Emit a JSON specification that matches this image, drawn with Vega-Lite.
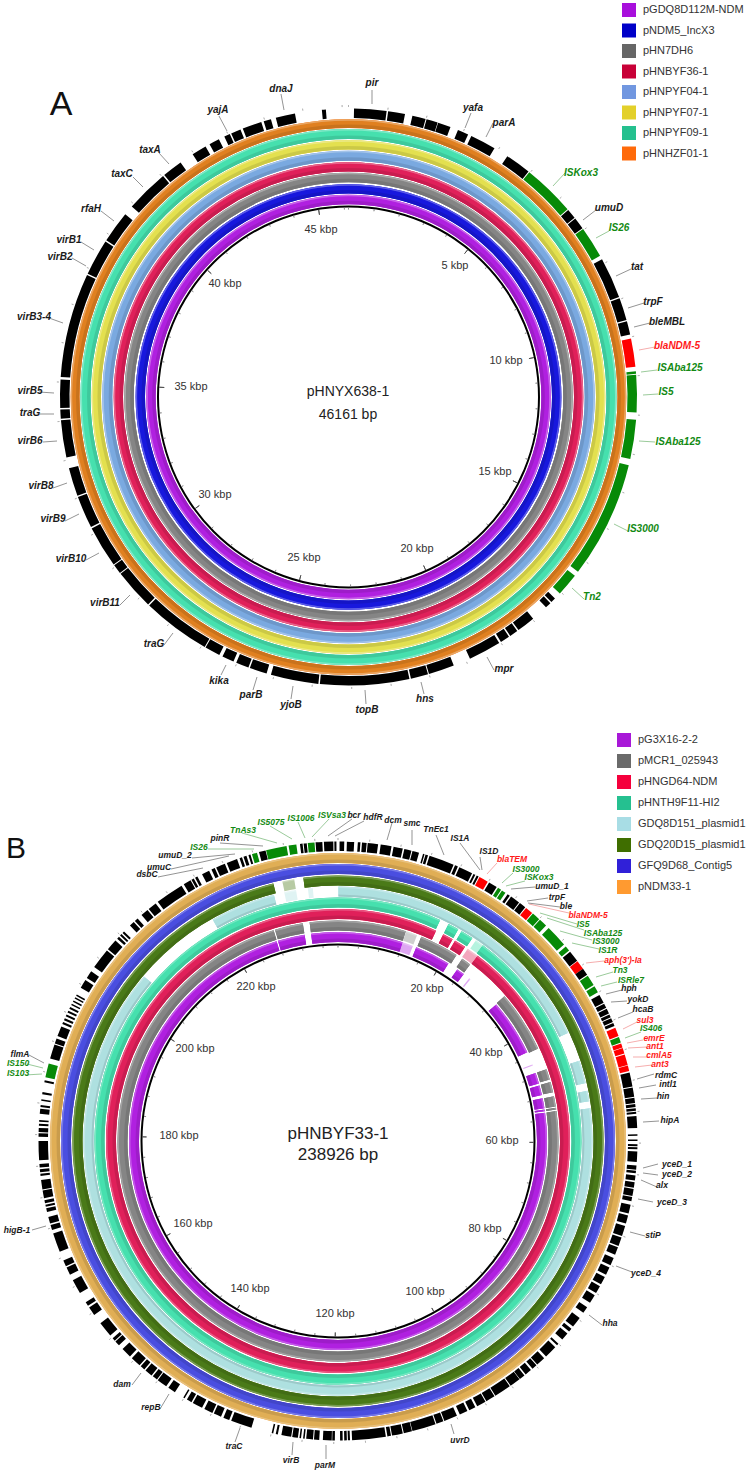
{"$schema":"https://vega.github.io/schema/vega-lite/v6.json","padding":0,"spacing":0,"background":"white","config":{"view":{"stroke":null},"text":{"font":"Liberation Sans"}},
"resolve":{"scale":{"color":"independent"},"legend":{"color":"independent"}},
"datasets":{
"ringsA":[{"track":"pGDQ8D112M-NDM","inner":192.8,"outer":202.2,"shade":196.3,"glow":200.7},{"track":"pNDM5_IncX3","inner":203.5,"outer":212.8,"shade":207,"glow":211.3},{"track":"pHN7DH6","inner":214.8,"outer":224.2,"shade":218.3,"glow":222.7},{"track":"pHNBYF36-1","inner":225.5,"outer":234.8,"shade":229,"glow":233.3},{"track":"pHNPYF04-1","inner":236.2,"outer":246.2,"shade":239.7,"glow":244.7},{"track":"pHNPYF07-1","inner":247.5,"outer":256.8,"shade":251,"glow":255.3},{"track":"pHNPYF09-1","inner":258,"outer":268,"shade":261.5,"glow":266.5},{"track":"pHNHZF01-1","inner":269,"outer":277.8,"shade":272.5,"glow":276.3}],
"segmentsA":[{"track":"pGDQ8D112M-NDM","start":0,"end":360,"identity":"high"},{"track":"pNDM5_IncX3","start":0,"end":360,"identity":"high"},{"track":"pHN7DH6","start":0,"end":360,"identity":"high"},{"track":"pHNBYF36-1","start":0,"end":360,"identity":"high"},{"track":"pHNPYF04-1","start":0,"end":360,"identity":"high"},{"track":"pHNPYF07-1","start":0,"end":360,"identity":"high"},{"track":"pHNPYF09-1","start":0,"end":360,"identity":"high"},{"track":"pHNHZF01-1","start":0,"end":360,"identity":"high"}],
"ringsB":[{"track":"pG3X16-2-2","inner":199,"outer":209,"shade":202.5,"glow":207.5},{"track":"pMCR1_025943","inner":210.5,"outer":220.5,"shade":214,"glow":219},{"track":"pHNGD64-NDM","inner":222,"outer":232,"shade":225.5,"glow":230.5},{"track":"pHNTH9F11-HI2","inner":233.5,"outer":243.5,"shade":237,"glow":242},{"track":"GDQ8D151_plasmid1","inner":244.5,"outer":254.5,"shade":246.5,"glow":253},{"track":"GDQ20D15_plasmid1","inner":255.5,"outer":265.5,"shade":259,"glow":264},{"track":"GFQ9D68_Contig5","inner":267,"outer":277,"shade":270.5,"glow":275.5},{"track":"pNDM33-1","inner":278,"outer":288,"shade":281.5,"glow":286.5}],
"segmentsB":[
{"track":"pG3X16-2-2","start":0,"end":18,"identity":"high"},{"track":"pG3X16-2-2","start":18,"end":21,"identity":"low"},{"track":"pG3X16-2-2","start":22,"end":31.9,"identity":"high"},{"track":"pG3X16-2-2","start":34.8,"end":37,"identity":"high"},{"track":"pG3X16-2-2","start":38.9,"end":39.3,"identity":"low"},{"track":"pG3X16-2-2","start":49.2,"end":64.9,"identity":"high"},{"track":"pG3X16-2-2","start":68.5,"end":68.8,"identity":"low"},{"track":"pG3X16-2-2","start":71,"end":74,"identity":"high"},{"track":"pG3X16-2-2","start":74.6,"end":77.3,"identity":"high"},{"track":"pG3X16-2-2","start":78.2,"end":81,"identity":"high"},{"track":"pG3X16-2-2","start":81.3,"end":81.8,"identity":"high"},{"track":"pG3X16-2-2","start":82.2,"end":342.9,"identity":"high"},{"track":"pG3X16-2-2","start":343.3,"end":350.8,"identity":"high"},{"track":"pG3X16-2-2","start":352.6,"end":360,"identity":"high"},
{"track":"pMCR1_025943","start":0,"end":17.9,"identity":"high"},{"track":"pMCR1_025943","start":18,"end":21,"identity":"low"},{"track":"pMCR1_025943","start":22.2,"end":32.5,"identity":"high"},{"track":"pMCR1_025943","start":34.3,"end":36.8,"identity":"high"},{"track":"pMCR1_025943","start":49,"end":65.2,"identity":"high"},{"track":"pMCR1_025943","start":71,"end":73.8,"identity":"high"},{"track":"pMCR1_025943","start":74.5,"end":77.2,"identity":"high"},{"track":"pMCR1_025943","start":78.3,"end":81,"identity":"high"},{"track":"pMCR1_025943","start":81.3,"end":81.8,"identity":"high"},{"track":"pMCR1_025943","start":82.2,"end":343,"identity":"high"},{"track":"pMCR1_025943","start":343.4,"end":350.8,"identity":"high"},{"track":"pMCR1_025943","start":352.6,"end":360,"identity":"high"},
{"track":"pHNGD64-NDM","start":0,"end":25,"identity":"high"},{"track":"pHNGD64-NDM","start":27,"end":29.6,"identity":"high"},{"track":"pHNGD64-NDM","start":30.3,"end":33.2,"identity":"high"},{"track":"pHNGD64-NDM","start":34,"end":37,"identity":"low"},{"track":"pHNGD64-NDM","start":37,"end":360,"identity":"high"},
{"track":"pHNTH9F11-HI2","start":0,"end":24.8,"identity":"high"},{"track":"pHNTH9F11-HI2","start":27,"end":29.6,"identity":"high"},{"track":"pHNTH9F11-HI2","start":30.5,"end":33.5,"identity":"high"},{"track":"pHNTH9F11-HI2","start":34.5,"end":36.5,"identity":"low"},{"track":"pHNTH9F11-HI2","start":36.5,"end":360,"identity":"high"},
{"track":"GDQ8D151_plasmid1","start":0.1,"end":64.8,"identity":"high"},{"track":"GDQ8D151_plasmid1","start":71.6,"end":76.8,"identity":"high"},{"track":"GDQ8D151_plasmid1","start":78.6,"end":81,"identity":"high"},{"track":"GDQ8D151_plasmid1","start":82.6,"end":310.3,"identity":"high"},{"track":"GDQ8D151_plasmid1","start":330.5,"end":345.4,"identity":"high"},{"track":"GDQ8D151_plasmid1","start":347.8,"end":350.5,"identity":"low"},{"track":"GDQ8D151_plasmid1","start":353.2,"end":354.3,"identity":"low"},
{"track":"GDQ20D15_plasmid1","start":0,"end":345.9,"identity":"high"},{"track":"GDQ20D15_plasmid1","start":347.9,"end":350.5,"identity":"low"},{"track":"GDQ20D15_plasmid1","start":352.5,"end":360,"identity":"high"},
{"track":"GFQ9D68_Contig5","start":0,"end":360,"identity":"high"},{"track":"pNDM33-1","start":0,"end":360,"identity":"high"}],
"featuresA":[{"start":1.1,"end":7.6,"kind":"gene"},{"start":7.9,"end":11.3,"kind":"gene"},{"start":12.8,"end":15.5,"kind":"gene"},{"start":15.7,"end":18,"kind":"gene"},{"start":18.1,"end":20.7,"kind":"gene"},{"start":22.3,"end":24.5,"kind":"gene"},{"start":25.2,"end":30.4,"kind":"gene"},{"start":33.4,"end":38.6,"kind":"gene"},{"start":38.8,"end":49.4,"kind":"IS"},{"start":49.6,"end":51.6,"kind":"gene"},{"start":51.8,"end":54.2,"kind":"gene"},{"start":54.4,"end":60.7,"kind":"IS"},{"start":61.5,"end":69.7,"kind":"gene"},{"start":70,"end":74.5,"kind":"gene"},{"start":74.8,"end":77.5,"kind":"gene"},{"start":78.3,"end":84,"kind":"AMR"},{"start":84.9,"end":85.4,"kind":"IS"},{"start":85.6,"end":93.1,"kind":"IS"},{"start":94.5,"end":102.4,"kind":"IS"},{"start":103.7,"end":127.3,"kind":"IS"},{"start":128.3,"end":132.9,"kind":"IS"},{"start":134.3,"end":135.3,"kind":"gene"},{"start":135.6,"end":136.8,"kind":"gene"},{"start":140.2,"end":143.9,"kind":"gene"},{"start":144.2,"end":145.9,"kind":"gene"},{"start":146.2,"end":148.1,"kind":"gene"},{"start":148.5,"end":155.1,"kind":"gene"},{"start":158.6,"end":163.8,"kind":"gene"},{"start":164,"end":167.5,"kind":"gene"},{"start":167.8,"end":185.7,"kind":"gene"},{"start":186,"end":195.6,"kind":"gene"},{"start":196.5,"end":200,"kind":"gene"},{"start":200.3,"end":202.9,"kind":"gene"},{"start":203.5,"end":205.9,"kind":"gene"},{"start":206.6,"end":209.7,"kind":"gene"},{"start":209.9,"end":223.7,"kind":"gene"},{"start":224,"end":232.2,"kind":"gene"},{"start":232.4,"end":234.3,"kind":"gene"},{"start":234.5,"end":242.9,"kind":"gene"},{"start":243.2,"end":249.7,"kind":"gene"},{"start":250,"end":255.7,"kind":"gene"},{"start":257.9,"end":265.4,"kind":"gene"},{"start":265.7,"end":267.5,"kind":"gene"},{"start":267.8,"end":273.5,"kind":"gene"},{"start":274,"end":295,"kind":"gene"},{"start":295.3,"end":302.6,"kind":"gene"},{"start":302.9,"end":309.3,"kind":"gene"},{"start":311.3,"end":320,"kind":"gene"},{"start":320.3,"end":324.4,"kind":"gene"},{"start":327.3,"end":330.3,"kind":"gene"},{"start":331.2,"end":333.3,"kind":"gene"},{"start":334.5,"end":335.7,"kind":"gene"},{"start":336,"end":338,"kind":"gene"},{"start":338.5,"end":342.4,"kind":"gene"},{"start":342.9,"end":344.4,"kind":"gene"},{"start":345.4,"end":349.3,"kind":"gene"},{"start":354.7,"end":355.5,"kind":"gene"}],
"featuresB":[{"start":359.3,"end":359.7,"kind":"gene"},{"start":0.3,"end":1.2,"kind":"gene"},{"start":1.7,"end":3.1,"kind":"gene"},{"start":3.8,"end":4.3,"kind":"gene"},{"start":4.6,"end":5.5,"kind":"gene"},{"start":5.7,"end":7.7,"kind":"gene"},{"start":8.2,"end":10.3,"kind":"gene"},{"start":10.7,"end":12.5,"kind":"gene"},{"start":12.8,"end":14.2,"kind":"gene"},{"start":14.4,"end":15.7,"kind":"gene"},{"start":16.5,"end":16.8,"kind":"gene"},{"start":17,"end":17.5,"kind":"gene"},{"start":17.8,"end":22.7,"kind":"gene"},{"start":23,"end":23.6,"kind":"gene"},{"start":23.9,"end":26.6,"kind":"gene"},{"start":26.9,"end":27.3,"kind":"gene"},{"start":27.6,"end":28,"kind":"gene"},{"start":28.2,"end":30,"kind":"AMR"},{"start":30.3,"end":32,"kind":"gene"},{"start":32.3,"end":33,"kind":"IS"},{"start":33.2,"end":34,"kind":"IS"},{"start":34.5,"end":35,"kind":"gene"},{"start":35.3,"end":37.2,"kind":"gene"},{"start":37.4,"end":38.7,"kind":"gene"},{"start":38.9,"end":40.4,"kind":"AMR"},{"start":40.6,"end":42.2,"kind":"IS"},{"start":42.4,"end":44,"kind":"IS"},{"start":44.7,"end":49,"kind":"IS"},{"start":49.5,"end":50.5,"kind":"IS"},{"start":50.8,"end":53,"kind":"gene"},{"start":53.1,"end":54.9,"kind":"AMR"},{"start":54.9,"end":56.3,"kind":"gene"},{"start":56.5,"end":58.6,"kind":"IS"},{"start":58.9,"end":60.2,"kind":"IS"},{"start":60.8,"end":62.5,"kind":"gene"},{"start":62.7,"end":63.6,"kind":"gene"},{"start":63.8,"end":64.8,"kind":"gene"},{"start":65,"end":65.6,"kind":"gene"},{"start":65.8,"end":66.6,"kind":"gene"},{"start":66.8,"end":67.4,"kind":"gene"},{"start":67.8,"end":69.5,"kind":"AMR"},{"start":69.7,"end":70.8,"kind":"IS"},{"start":71,"end":71.8,"kind":"AMR"},{"start":71.9,"end":73,"kind":"AMR"},{"start":73.2,"end":75.3,"kind":"AMR"},{"start":75.4,"end":76.5,"kind":"AMR"},{"start":76.8,"end":79.5,"kind":"gene"},{"start":79.7,"end":81.5,"kind":"gene"},{"start":81.7,"end":82.7,"kind":"gene"},{"start":82.9,"end":83.5,"kind":"gene"},{"start":83.7,"end":84.2,"kind":"gene"},{"start":84.4,"end":84.8,"kind":"gene"},{"start":85.2,"end":87.5,"kind":"gene"},{"start":88.7,"end":89,"kind":"gene"},{"start":89.7,"end":90,"kind":"gene"},{"start":90.6,"end":91,"kind":"gene"},{"start":91.2,"end":91.6,"kind":"gene"},{"start":92,"end":94,"kind":"gene"},{"start":94.7,"end":95.5,"kind":"gene"},{"start":95.7,"end":96.2,"kind":"gene"},{"start":96.6,"end":97.6,"kind":"gene"},{"start":97.9,"end":99,"kind":"gene"},{"start":99.2,"end":100.6,"kind":"gene"},{"start":100.8,"end":101.6,"kind":"gene"},{"start":102.3,"end":104,"kind":"gene"},{"start":104.4,"end":106,"kind":"gene"},{"start":106.5,"end":108.5,"kind":"gene"},{"start":108.8,"end":110.5,"kind":"gene"},{"start":110.8,"end":112.3,"kind":"gene"},{"start":113,"end":114.5,"kind":"gene"},{"start":115,"end":116.5,"kind":"gene"},{"start":117,"end":118.6,"kind":"gene"},{"start":119,"end":120.5,"kind":"gene"},{"start":121,"end":122.7,"kind":"gene"},{"start":123.7,"end":125,"kind":"gene"},{"start":126.2,"end":128.3,"kind":"gene"},{"start":128.8,"end":129.5,"kind":"gene"},{"start":130,"end":131.5,"kind":"gene"},{"start":132.6,"end":133,"kind":"gene"},{"start":133.5,"end":136,"kind":"gene"},{"start":136.5,"end":138.3,"kind":"gene"},{"start":138.5,"end":139.5,"kind":"gene"},{"start":139.9,"end":141.2,"kind":"gene"},{"start":141.5,"end":142.6,"kind":"gene"},{"start":142.7,"end":144.8,"kind":"gene"},{"start":145,"end":148.3,"kind":"gene"},{"start":148.5,"end":150.3,"kind":"gene"},{"start":150.5,"end":152.3,"kind":"gene"},{"start":152.7,"end":154,"kind":"gene"},{"start":154.4,"end":156,"kind":"gene"},{"start":156.6,"end":159.2,"kind":"gene"},{"start":159.4,"end":160.8,"kind":"gene"},{"start":161,"end":165.6,"kind":"gene"},{"start":165.7,"end":167.3,"kind":"gene"},{"start":167.5,"end":169.6,"kind":"gene"},{"start":169.8,"end":170.5,"kind":"gene"},{"start":170.8,"end":177.3,"kind":"gene"},{"start":177.7,"end":178.1,"kind":"gene"},{"start":178.3,"end":178.8,"kind":"gene"},{"start":179.1,"end":179.6,"kind":"gene"},{"start":180.6,"end":181.1,"kind":"gene"},{"start":181.2,"end":182.9,"kind":"gene"},{"start":183.6,"end":184.6,"kind":"gene"},{"start":184.8,"end":186.1,"kind":"gene"},{"start":186.4,"end":186.7,"kind":"gene"},{"start":187.1,"end":187.4,"kind":"gene"},{"start":187.7,"end":188.8,"kind":"gene"},{"start":189,"end":190.9,"kind":"gene"},{"start":191.6,"end":192,"kind":"gene"},{"start":192.5,"end":192.8,"kind":"gene"},{"start":196.8,"end":200.9,"kind":"gene"},{"start":201.3,"end":202.5,"kind":"gene"},{"start":203,"end":204.5,"kind":"gene"},{"start":204.8,"end":206.5,"kind":"gene"},{"start":207,"end":209,"kind":"gene"},{"start":209.3,"end":210.3,"kind":"gene"},{"start":210.8,"end":211.1,"kind":"gene"},{"start":213,"end":214.5,"kind":"gene"},{"start":215,"end":217,"kind":"gene"},{"start":217.2,"end":218.2,"kind":"gene"},{"start":218.5,"end":220,"kind":"gene"},{"start":220.3,"end":221.2,"kind":"gene"},{"start":221.5,"end":223.5,"kind":"gene"},{"start":224,"end":226,"kind":"gene"},{"start":227,"end":228,"kind":"gene"},{"start":228.2,"end":228.8,"kind":"gene"},{"start":229.5,"end":232.5,"kind":"gene"},{"start":234.5,"end":236.2,"kind":"gene"},{"start":236.6,"end":237.4,"kind":"gene"},{"start":239.5,"end":242.3,"kind":"gene"},{"start":243.5,"end":245,"kind":"gene"},{"start":245.3,"end":246.5,"kind":"gene"},{"start":248.3,"end":252,"kind":"gene"},{"start":252.7,"end":253.7,"kind":"gene"},{"start":254,"end":255.3,"kind":"gene"},{"start":256.3,"end":257,"kind":"gene"},{"start":257.3,"end":257.7,"kind":"gene"},{"start":258,"end":258.6,"kind":"gene"},{"start":259,"end":260.5,"kind":"gene"},{"start":260.7,"end":262.5,"kind":"gene"},{"start":263.3,"end":263.7,"kind":"gene"},{"start":264,"end":264.6,"kind":"gene"},{"start":264.9,"end":265.6,"kind":"gene"},{"start":266.3,"end":270,"kind":"gene"},{"start":270.8,"end":271.5,"kind":"gene"},{"start":271.7,"end":272.5,"kind":"gene"},{"start":272.9,"end":273.3,"kind":"gene"},{"start":273.7,"end":274,"kind":"gene"},{"start":275.2,"end":276.2,"kind":"gene"},{"start":276.5,"end":276.9,"kind":"gene"},{"start":277.7,"end":278,"kind":"gene"},{"start":279,"end":279.4,"kind":"gene"},{"start":281.3,"end":281.7,"kind":"gene"},{"start":282.3,"end":285,"kind":"IS"},{"start":286,"end":288.8,"kind":"gene"},{"start":289,"end":290,"kind":"gene"},{"start":290.5,"end":292.5,"kind":"gene"},{"start":293,"end":293.4,"kind":"gene"},{"start":293.8,"end":294.2,"kind":"gene"},{"start":294.6,"end":295,"kind":"gene"},{"start":295.4,"end":295.8,"kind":"gene"},{"start":296.2,"end":296.6,"kind":"gene"},{"start":297,"end":297.3,"kind":"gene"},{"start":297.7,"end":298,"kind":"gene"},{"start":298.4,"end":298.7,"kind":"gene"},{"start":299,"end":299.3,"kind":"gene"},{"start":300.8,"end":302.5,"kind":"gene"},{"start":303,"end":304.5,"kind":"gene"},{"start":305.5,"end":309.5,"kind":"gene"},{"start":309.8,"end":312,"kind":"gene"},{"start":312.5,"end":313,"kind":"gene"},{"start":313.3,"end":313.7,"kind":"gene"},{"start":314,"end":314.4,"kind":"gene"},{"start":316,"end":317,"kind":"gene"},{"start":317.3,"end":318,"kind":"gene"},{"start":319,"end":320.5,"kind":"gene"},{"start":320.8,"end":322.5,"kind":"gene"},{"start":323,"end":328.5,"kind":"gene"},{"start":329,"end":330.5,"kind":"gene"},{"start":330.7,"end":331.2,"kind":"gene"},{"start":331.5,"end":332,"kind":"gene"},{"start":333,"end":334.5,"kind":"gene"},{"start":335,"end":335.7,"kind":"gene"},{"start":336,"end":337.8,"kind":"gene"},{"start":338.2,"end":340.3,"kind":"gene"},{"start":340.8,"end":341.3,"kind":"gene"},{"start":341.6,"end":342.2,"kind":"gene"},{"start":342.6,"end":343,"kind":"gene"},{"start":343.3,"end":344.3,"kind":"IS"},{"start":344.7,"end":346,"kind":"gene"},{"start":346.1,"end":350.1,"kind":"IS"},{"start":350.5,"end":352,"kind":"IS"},{"start":352.7,"end":353.2,"kind":"gene"},{"start":353.4,"end":354,"kind":"gene"},{"start":354.2,"end":355.5,"kind":"IS"},{"start":355.7,"end":357,"kind":"gene"},{"start":357.3,"end":359.1,"kind":"gene"}],
"ticksMinorA":[{"bp":0},{"bp":1000},{"bp":2000},{"bp":3000},{"bp":4000},{"bp":6000},{"bp":7000},{"bp":8000},{"bp":9000},{"bp":11000},{"bp":12000},{"bp":13000},{"bp":14000},{"bp":16000},{"bp":17000},{"bp":18000},{"bp":19000},{"bp":21000},{"bp":22000},{"bp":23000},{"bp":24000},{"bp":26000},{"bp":27000},{"bp":28000},{"bp":29000},{"bp":31000},{"bp":32000},{"bp":33000},{"bp":34000},{"bp":36000},{"bp":37000},{"bp":38000},{"bp":39000},{"bp":41000},{"bp":42000},{"bp":43000},{"bp":44000},{"bp":46000}],
"ticksMajorA":[{"bp":5000},{"bp":10000},{"bp":15000},{"bp":20000},{"bp":25000},{"bp":30000},{"bp":35000},{"bp":40000},{"bp":45000}],
"ticksMinorB":[{"bp":0},{"bp":4000},{"bp":8000},{"bp":12000},{"bp":16000},{"bp":24000},{"bp":28000},{"bp":32000},{"bp":36000},{"bp":44000},{"bp":48000},{"bp":52000},{"bp":56000},{"bp":64000},{"bp":68000},{"bp":72000},{"bp":76000},{"bp":84000},{"bp":88000},{"bp":92000},{"bp":96000},{"bp":104000},{"bp":108000},{"bp":112000},{"bp":116000},{"bp":124000},{"bp":128000},{"bp":132000},{"bp":136000},{"bp":144000},{"bp":148000},{"bp":152000},{"bp":156000},{"bp":164000},{"bp":168000},{"bp":172000},{"bp":176000},{"bp":184000},{"bp":188000},{"bp":192000},{"bp":196000},{"bp":204000},{"bp":208000},{"bp":212000},{"bp":216000},{"bp":224000},{"bp":228000},{"bp":232000},{"bp":236000}],
"ticksMajorB":[{"bp":20000},{"bp":40000},{"bp":60000},{"bp":80000},{"bp":100000},{"bp":120000},{"bp":140000},{"bp":160000},{"bp":180000},{"bp":200000},{"bp":220000}],
"labelsA":[{"gene":"pir","kind":"gene","lx":24,"ly":-314,"x0":24,"y0":-307,"x1":24,"y1":-293},{"gene":"yafa","kind":"gene","lx":125,"ly":-289,"x0":123,"y0":-284,"x1":117,"y1":-269},{"gene":"parA","kind":"gene","lx":156,"ly":-274,"x0":145,"y0":-274,"x1":138,"y1":-260},{"gene":"ISKox3","kind":"IS","lx":233,"ly":-224,"x0":217,"y0":-224,"x1":205,"y1":-211},{"gene":"umuD","kind":"gene","lx":261,"ly":-189,"x0":248,"y0":-187,"x1":235,"y1":-177},{"gene":"IS26","kind":"IS","lx":271,"ly":-169,"x0":261,"y0":-166,"x1":248,"y1":-159},{"gene":"tat","kind":"gene","lx":289,"ly":-130,"x0":283,"y0":-128,"x1":268,"y1":-121},{"gene":"trpF","kind":"gene","lx":305,"ly":-95,"x0":296,"y0":-94,"x1":280,"y1":-89},{"gene":"bleMBL","kind":"gene","lx":319,"ly":-75,"x0":302,"y0":-74,"x1":286,"y1":-70},{"gene":"blaNDM-5","kind":"AMR","lx":329,"ly":-51,"x0":307,"y0":-50,"x1":291,"y1":-47},{"gene":"ISAba125","kind":"IS","lx":332,"ly":-29,"x0":309,"y0":-27,"x1":293,"y1":-25},{"gene":"IS5","kind":"IS","lx":318,"ly":-5,"x0":310,"y0":-3,"x1":295,"y1":-2},{"gene":"ISAba125","kind":"IS","lx":330,"ly":45,"x0":307,"y0":45,"x1":291,"y1":44},{"gene":"IS3000","kind":"IS","lx":295,"ly":132,"x0":280,"y0":134,"x1":266,"y1":127},{"gene":"Tn2","kind":"IS","lx":244,"ly":200,"x0":236,"y0":202,"x1":224,"y1":191},{"gene":"mpr","kind":"gene","lx":156,"ly":272,"x0":146,"y0":273,"x1":139,"y1":260},{"gene":"hns","kind":"gene","lx":77,"ly":302,"x0":76,"y0":297,"x1":73,"y1":285},{"gene":"topB","kind":"gene","lx":19,"ly":313,"x0":18,"y0":307,"x1":17,"y1":293},{"gene":"yjoB","kind":"gene","lx":-57,"ly":308,"x0":-57,"y0":302,"x1":-55,"y1":289},{"gene":"parB","kind":"gene","lx":-97,"ly":298,"x0":-95,"y0":293,"x1":-91,"y1":280},{"gene":"kika","kind":"gene","lx":-129,"ly":284,"x0":-127,"y0":278,"x1":-122,"y1":268},{"gene":"traG","kind":"gene","lx":-194,"ly":247,"x0":-184,"y0":248,"x1":-175,"y1":236},{"gene":"virB11","kind":"gene","lx":-243,"ly":206,"x0":-228,"y0":208,"x1":-218,"y1":198},{"gene":"virB10","kind":"gene","lx":-277,"ly":162,"x0":-262,"y0":163,"x1":-249,"y1":156},{"gene":"virB9","kind":"gene","lx":-295,"ly":122,"x0":-283,"y0":124,"x1":-269,"y1":117},{"gene":"virB8","kind":"gene","lx":-307,"ly":89,"x0":-295,"y0":91,"x1":-281,"y1":86},{"gene":"virB6","kind":"gene","lx":-318,"ly":44,"x0":-305,"y0":45,"x1":-291,"y1":44},{"gene":"traG","kind":"gene","lx":-318,"ly":16,"x0":-308,"y0":17,"x1":-294,"y1":17},{"gene":"virB5","kind":"gene","lx":-318,"ly":-6,"x0":-309,"y0":-5,"x1":-294,"y1":-4},{"gene":"virB3-4","kind":"gene","lx":-314,"ly":-80,"x0":-299,"y0":-79,"x1":-285,"y1":-74},{"gene":"virB2","kind":"gene","lx":-288,"ly":-140,"x0":-276,"y0":-139,"x1":-262,"y1":-131},{"gene":"virB1","kind":"gene","lx":-279,"ly":-157,"x0":-267,"y0":-155,"x1":-254,"y1":-147},{"gene":"rfaH","kind":"gene","lx":-257,"ly":-188,"x0":-247,"y0":-186,"x1":-234,"y1":-176},{"gene":"taxC","kind":"gene","lx":-226,"ly":-223,"x0":-215,"y0":-220,"x1":-205,"y1":-210},{"gene":"taxA","kind":"gene","lx":-198,"ly":-247,"x0":-189,"y0":-244,"x1":-179,"y1":-233},{"gene":"yajA","kind":"gene","lx":-130,"ly":-287,"x0":-129,"y0":-281,"x1":-121,"y1":-266},{"gene":"dnaJ","kind":"gene","lx":-67,"ly":-308,"x0":-67,"y0":-303,"x1":-64,"y1":-287}],
"labelsB":[{"gene":"smc","kind":"gene","lx":74,"ly":-318,"x0":74,"y0":-311,"x1":74,"y1":-296},{"gene":"TnEc1","kind":"gene","lx":98,"ly":-312,"x0":98,"y0":-306,"x1":106,"y1":-286},{"gene":"IS1A","kind":"gene","lx":122,"ly":-303,"x0":122,"y0":-298,"x1":142,"y1":-271},{"gene":"IS1D","kind":"gene","lx":151,"ly":-290,"x0":142,"y0":-284,"x1":144,"y1":-271},{"gene":"blaTEM","kind":"AMR","lx":174,"ly":-282,"x0":159,"y0":-278,"x1":149,"y1":-267},{"gene":"IS3000","kind":"IS","lx":188,"ly":-272,"x0":175,"y0":-268,"x1":164,"y1":-258},{"gene":"ISKox3","kind":"IS","lx":201,"ly":-264,"x0":187,"y0":-260,"x1":168,"y1":-255},{"gene":"umuD_1","kind":"gene","lx":214,"ly":-255,"x0":197,"y0":-254,"x1":173,"y1":-252},{"gene":"trpF","kind":"gene","lx":219,"ly":-244,"x0":210,"y0":-243,"x1":189,"y1":-240},{"gene":"ble","kind":"gene","lx":228,"ly":-235,"x0":222,"y0":-234,"x1":190,"y1":-238},{"gene":"blaNDM-5","kind":"AMR","lx":250,"ly":-226,"x0":231,"y0":-228,"x1":191,"y1":-237},{"gene":"IS5","kind":"IS","lx":245,"ly":-217,"x0":239,"y0":-217,"x1":202,"y1":-228},{"gene":"ISAba125","kind":"IS","lx":265,"ly":-208,"x0":246,"y0":-211,"x1":209,"y1":-223},{"gene":"IS3000","kind":"IS","lx":268,"ly":-200,"x0":254,"y0":-201,"x1":222,"y1":-210},{"gene":"IS1R","kind":"IS","lx":270,"ly":-191,"x0":261,"y0":-192,"x1":234,"y1":-198},{"gene":"aph(3')-Ia","kind":"AMR","lx":285,"ly":-181,"x0":266,"y0":-180,"x1":248,"y1":-178},{"gene":"Tn3","kind":"IS","lx":282,"ly":-171,"x0":275,"y0":-169,"x1":258,"y1":-164},{"gene":"ISRle7","kind":"IS","lx":293,"ly":-161,"x0":279,"y0":-159,"x1":263,"y1":-155},{"gene":"hph","kind":"gene","lx":291,"ly":-153,"x0":284,"y0":-151,"x1":268,"y1":-147},{"gene":"yokD","kind":"gene","lx":300,"ly":-142,"x0":289,"y0":-140,"x1":273,"y1":-139},{"gene":"hcaB","kind":"gene","lx":305,"ly":-132,"x0":295,"y0":-129,"x1":280,"y1":-123},{"gene":"sul3","kind":"AMR","lx":307,"ly":-121,"x0":299,"y0":-119,"x1":285,"y1":-112},{"gene":"IS406","kind":"IS","lx":313,"ly":-113,"x0":303,"y0":-109,"x1":287,"y1":-103},{"gene":"emrE","kind":"AMR","lx":316,"ly":-103,"x0":305,"y0":-101,"x1":289,"y1":-98},{"gene":"ant1","kind":"AMR","lx":317,"ly":-95,"x0":309,"y0":-94,"x1":290,"y1":-93},{"gene":"cmlA5","kind":"AMR","lx":321,"ly":-86,"x0":311,"y0":-84,"x1":295,"y1":-84},{"gene":"ant3","kind":"AMR","lx":322,"ly":-77,"x0":314,"y0":-76,"x1":297,"y1":-74},{"gene":"rdmC","kind":"gene","lx":328,"ly":-66,"x0":316,"y0":-67,"x1":299,"y1":-62},{"gene":"intl1","kind":"gene","lx":330,"ly":-57,"x0":318,"y0":-56,"x1":301,"y1":-53},{"gene":"hin","kind":"gene","lx":325,"ly":-45,"x0":319,"y0":-43,"x1":303,"y1":-42},{"gene":"hipA","kind":"gene","lx":332,"ly":-21,"x0":321,"y0":-20,"x1":305,"y1":-19},{"gene":"yceD_1","kind":"gene","lx":339,"ly":23,"x0":320,"y0":23,"x1":305,"y1":27},{"gene":"yceD_2","kind":"gene","lx":339,"ly":33,"x0":320,"y0":34,"x1":305,"y1":32},{"gene":"alx","kind":"gene","lx":324,"ly":44,"x0":319,"y0":46,"x1":303,"y1":39},{"gene":"yceD_3","kind":"gene","lx":334,"ly":61,"x0":315,"y0":61,"x1":300,"y1":58},{"gene":"stiP","kind":"gene","lx":315,"ly":94,"x0":307,"y0":95,"x1":292,"y1":91},{"gene":"yceD_4","kind":"gene","lx":308,"ly":132,"x0":294,"y0":131,"x1":278,"y1":125},{"gene":"hha","kind":"gene","lx":272,"ly":182,"x0":264,"y0":184,"x1":251,"y1":174},{"gene":"uvrD","kind":"gene","lx":122,"ly":299,"x0":116,"y0":293,"x1":113,"y1":283},{"gene":"parM","kind":"gene","lx":-13,"ly":324,"x0":-12,"y0":318,"x1":-12,"y1":304},{"gene":"virB","kind":"gene","lx":-47,"ly":319,"x0":-46,"y0":314,"x1":-45,"y1":301},{"gene":"traC","kind":"gene","lx":-104,"ly":305,"x0":-103,"y0":301,"x1":-98,"y1":287},{"gene":"repB","kind":"gene","lx":-187,"ly":266,"x0":-178,"y0":268,"x1":-169,"y1":253},{"gene":"dam","kind":"gene","lx":-216,"ly":243,"x0":-206,"y0":244,"x1":-197,"y1":232},{"gene":"higB-1","kind":"gene","lx":-321,"ly":89,"x0":-306,"y0":89,"x1":-292,"y1":85},{"gene":"flmA","kind":"gene","lx":-318,"ly":-87,"x0":-309,"y0":-86,"x1":-294,"y1":-78},{"gene":"IS150","kind":"IS","lx":-320,"ly":-78,"x0":-311,"y0":-77,"x1":-295,"y1":-73},{"gene":"IS103","kind":"IS","lx":-320,"ly":-68,"x0":-313,"y0":-66,"x1":-296,"y1":-67},{"gene":"dsbC","kind":"gene","lx":-191,"ly":-267,"x0":-180,"y0":-264,"x1":-135,"y1":-273},{"gene":"umuC","kind":"gene","lx":-179,"ly":-274,"x0":-167,"y0":-272,"x1":-109,"y1":-285},{"gene":"umuD_2","kind":"gene","lx":-163,"ly":-286,"x0":-146,"y0":-283,"x1":-103,"y1":-287},{"gene":"IS26","kind":"IS","lx":-139,"ly":-294,"x0":-130,"y0":-292,"x1":-84,"y1":-292},{"gene":"pinR","kind":"gene","lx":-118,"ly":-303,"x0":-118,"y0":-298,"x1":-75,"y1":-295},{"gene":"TnAs3","kind":"IS","lx":-95,"ly":-311,"x0":-96,"y0":-308,"x1":-61,"y1":-298},{"gene":"IS5075","kind":"IS","lx":-67,"ly":-319,"x0":-68,"y0":-315,"x1":-46,"y1":-302},{"gene":"IS1006","kind":"IS","lx":-37,"ly":-323,"x0":-40,"y0":-319,"x1":-33,"y1":-303},{"gene":"ISVsa3","kind":"IS","lx":-6,"ly":-326,"x0":-9,"y0":-322,"x1":-26,"y1":-304},{"gene":"bcr","kind":"gene","lx":16,"ly":-326,"x0":14,"y0":-322,"x1":-10,"y1":-305},{"gene":"hdfR","kind":"gene","lx":35,"ly":-324,"x0":26,"y0":-320,"x1":-3,"y1":-305},{"gene":"dcm","kind":"gene","lx":55,"ly":-321,"x0":54,"y0":-318,"x1":49,"y1":-301}],
"tickLabelsA":[{"t":"5 kbp","lx":107,"ly":-131},{"t":"10 kbp","lx":158,"ly":-36},{"t":"15 kbp","lx":147,"ly":75},{"t":"20 kbp","lx":69,"ly":152},{"t":"25 kbp","lx":-44,"ly":161},{"t":"30 kbp","lx":-133,"ly":98},{"t":"35 kbp","lx":-157,"ly":-10},{"t":"40 kbp","lx":-123,"ly":-113},{"t":"45 kbp","lx":-27,"ly":-167}],
"tickLabelsB":[{"t":"20 kbp","lx":89,"ly":-152},{"t":"40 kbp","lx":148,"ly":-88},{"t":"60 kbp","lx":164,"ly":0},{"t":"80 kbp","lx":147,"ly":88},{"t":"100 kbp","lx":87,"ly":151},{"t":"120 kbp","lx":-3,"ly":173},{"t":"140 kbp","lx":-88,"ly":148},{"t":"160 kbp","lx":-145,"ly":83},{"t":"180 kbp","lx":-159,"ly":-5},{"t":"200 kbp","lx":-143,"ly":-92},{"t":"220 kbp","lx":-82,"ly":-154}]
},
"vconcat":[
{"width":751,"height":720,
"resolve":{"scale":{"theta":"independent","fill":"independent"}},
"layer":[
{"data":{"name":"segmentsA"},"transform":[{"lookup":"track","from":{"data":{"name":"ringsA"},"key":"track","fields":["inner","outer","shade","glow"]}}],"mark":{"type":"arc"},"encoding":{"x":{"value":348.5},"y":{"value":397},"theta":{"field":"start","type":"quantitative","scale":{"domain":[0,360]}},"theta2":{"field":"end"},"radius":{"field":"outer","type":"quantitative","scale":{"type":"linear","domain":[0,400],"range":[0,400]}},"radius2":{"field":"inner"},"color":{"field":"track","type":"nominal","scale":{"domain":["pGDQ8D112M-NDM","pNDM5_IncX3","pHN7DH6","pHNBYF36-1","pHNPYF04-1","pHNPYF07-1","pHNPYF09-1","pHNHZF01-1"],"range":["#a80fdc","#0000c8","#666666","#c80037","#7197e0","#e3d02a","#25c08e","#ff6a0a"]},"legend":{"orient":"none","legendX":622,"legendY":3,"title":null,"symbolType":"square","symbolSize":196,"symbolStrokeWidth":0,"labelFontSize":11,"labelFont":"Liberation Sans","labelColor":"#333333","rowPadding":6.5,"labelOffset":7,"padding":0}}}},
{"data":{"name":"segmentsA"},"transform":[{"lookup":"track","from":{"data":{"name":"ringsA"},"key":"track","fields":["inner","outer","shade","glow"]}}],"mark":{"type":"arc"},"encoding":{"x":{"value":348.5},"y":{"value":397},"theta":{"field":"start","type":"quantitative","scale":{"domain":[0,360]}},"theta2":{"field":"end"},"radius":{"field":"outer","type":"quantitative","scale":{"type":"linear","domain":[0,400],"range":[0,400]}},"radius2":{"field":"inner"},"fill":{"field":"track","type":"nominal","legend":null,"scale":{"domain":["pGDQ8D112M-NDM","pNDM5_IncX3","pHN7DH6","pHNBYF36-1","pHNPYF04-1","pHNPYF07-1","pHNPYF09-1","pHNHZF01-1"],"range":["#b020e0","#1818dd","#858585","#e0205a","#7aa9e0","#e3e04f","#46e0ae","#e08020"]}}}},
{"data":{"name":"segmentsA"},"transform":[{"lookup":"track","from":{"data":{"name":"ringsA"},"key":"track","fields":["inner","outer","shade","glow"]}}],"mark":{"type":"arc","fill":"white","opacity":0.3},"encoding":{"x":{"value":348.5},"y":{"value":397},"theta":{"field":"start","type":"quantitative","scale":{"domain":[0,360]}},"theta2":{"field":"end"},"radius":{"field":"outer","type":"quantitative","scale":{"type":"linear","domain":[0,400],"range":[0,400]}},"radius2":{"field":"glow"}}},
{"data":{"name":"segmentsA"},"transform":[{"lookup":"track","from":{"data":{"name":"ringsA"},"key":"track","fields":["inner","outer","shade","glow"]}}],"mark":{"type":"arc","fill":"black","opacity":0.1},"encoding":{"x":{"value":348.5},"y":{"value":397},"theta":{"field":"start","type":"quantitative","scale":{"domain":[0,360]}},"theta2":{"field":"end"},"radius":{"field":"shade","type":"quantitative","scale":{"type":"linear","domain":[0,400],"range":[0,400]}},"radius2":{"field":"inner"}}},
{"data":{"values":[{"start":0,"end":360}]},"mark":{"type":"arc","fill":"black","radius":191.5,"radius2":189.5},"encoding":{"x":{"value":348.5},"y":{"value":397},"theta":{"field":"start","type":"quantitative","scale":{"domain":[0,360]}},"theta2":{"field":"end"}}},
{"data":{"name":"ticksMinorA"},"mark":{"type":"arc","fill":"#777777","stroke":"#777777","strokeWidth":0.6,"radius":189.5,"radius2":187.5},"encoding":{"x":{"value":348.5},"y":{"value":397},"theta":{"field":"bp","type":"quantitative","scale":{"domain":[0,46161]}},"theta2":{"field":"bp"}}},
{"data":{"name":"ticksMajorA"},"mark":{"type":"arc","fill":"#444444","stroke":"#444444","strokeWidth":0.8,"radius":189.5,"radius2":184.5},"encoding":{"x":{"value":348.5},"y":{"value":397},"theta":{"field":"bp","type":"quantitative","scale":{"domain":[0,46161]}},"theta2":{"field":"bp"}}},
{"data":{"name":"ticksMinorA"},"mark":{"type":"arc","fill":"#999999","stroke":"#999999","strokeWidth":0.5,"radius":292,"radius2":290},"encoding":{"x":{"value":348.5},"y":{"value":397},"theta":{"field":"bp","type":"quantitative","scale":{"domain":[0,46161]}},"theta2":{"field":"bp"}}},
{"data":{"name":"ticksMajorA"},"mark":{"type":"arc","fill":"#999999","stroke":"#999999","strokeWidth":0.5,"radius":292,"radius2":290},"encoding":{"x":{"value":348.5},"y":{"value":397},"theta":{"field":"bp","type":"quantitative","scale":{"domain":[0,46161]}},"theta2":{"field":"bp"}}},
{"data":{"name":"featuresA"},"mark":{"type":"arc","radius":288.5,"radius2":279},"encoding":{"x":{"value":348.5},"y":{"value":397},"theta":{"field":"start","type":"quantitative","scale":{"domain":[0,360]}},"theta2":{"field":"end"},"fill":{"field":"kind","type":"nominal","legend":null,"scale":{"domain":["gene","IS","AMR"],"range":["#000000","#078a07","#ff0000"]}}}},
{"data":{"name":"labelsA"},"mark":{"type":"rule","strokeWidth":0.7},"encoding":{"x":{"field":"x0","type":"quantitative","axis":null,"scale":{"domain":[-348,403],"range":[0,751],"nice":false,"zero":false}},"y":{"field":"y0","type":"quantitative","axis":null,"scale":{"domain":[-397,323],"range":[0,720],"nice":false,"zero":false}},"x2":{"field":"x1"},"y2":{"field":"y1"},"stroke":{"field":"kind","type":"nominal","legend":null,"scale":{"domain":["gene","IS","AMR"],"range":["#666666","#6fb36f","#f08a8a"]}}}},
{"data":{"name":"labelsA"},"mark":{"type":"text","fontSize":10,"fontStyle":"italic","fontWeight":"bold","align":"center","baseline":"middle"},"encoding":{"x":{"field":"lx","type":"quantitative"},"y":{"field":"ly","type":"quantitative"},"text":{"field":"gene"},"fill":{"field":"kind","type":"nominal","legend":null,"scale":{"domain":["gene","IS","AMR"],"range":["#1a1a1a","#138a13","#ff1a1a"]}}}},
{"data":{"name":"tickLabelsA"},"mark":{"type":"text","fontSize":11,"fill":"#333333","align":"center","baseline":"middle"},"encoding":{"x":{"field":"lx","type":"quantitative"},"y":{"field":"ly","type":"quantitative"},"text":{"field":"t"}}},
{"data":{"values":[{"t":"pHNYX638-1","lx":0,"ly":-5},{"t":"46161 bp","lx":0,"ly":18}]},"mark":{"type":"text","fontSize":14,"fill":"#222222","align":"center","baseline":"middle"},"encoding":{"x":{"field":"lx","type":"quantitative"},"y":{"field":"ly","type":"quantitative"},"text":{"field":"t"}}},
{"data":{"values":[{"t":"A","lx":-287,"ly":-292}]},"mark":{"type":"text","fontSize":34,"fill":"#111111","align":"center","baseline":"middle"},"encoding":{"x":{"field":"lx","type":"quantitative"},"y":{"field":"ly","type":"quantitative"},"text":{"field":"t"}}}
]},
{"width":751,"height":751,
"resolve":{"scale":{"theta":"independent","fill":"independent"}},
"layer":[
{"data":{"name":"segmentsB"},"transform":[{"filter":"datum.identity === 'high'"},{"lookup":"track","from":{"data":{"name":"ringsB"},"key":"track","fields":["inner","outer","shade","glow"]}}],"mark":{"type":"arc"},"encoding":{"x":{"value":338},"y":{"value":421},"theta":{"field":"start","type":"quantitative","scale":{"domain":[0,360]}},"theta2":{"field":"end"},"radius":{"field":"outer","type":"quantitative","scale":{"type":"linear","domain":[0,400],"range":[0,400]}},"radius2":{"field":"inner"},"color":{"field":"track","type":"nominal","scale":{"domain":["pG3X16-2-2","pMCR1_025943","pHNGD64-NDM","pHNTH9F11-HI2","GDQ8D151_plasmid1","GDQ20D15_plasmid1","GFQ9D68_Contig5","pNDM33-1"],"range":["#a818d8","#6a6a6a","#f5003c","#25c090","#a8dde5","#3f6e00","#3020d8","#ff9a30"]},"legend":{"orient":"none","legendX":617,"legendY":13,"title":null,"symbolType":"square","symbolSize":196,"symbolStrokeWidth":0,"labelFontSize":11,"labelFont":"Liberation Sans","labelColor":"#333333","rowPadding":7,"labelOffset":7,"padding":0}}}},
{"data":{"name":"segmentsB"},"transform":[{"lookup":"track","from":{"data":{"name":"ringsB"},"key":"track","fields":["inner","outer","shade","glow"]}}],"mark":{"type":"arc"},"encoding":{"x":{"value":338},"y":{"value":421},"theta":{"field":"start","type":"quantitative","scale":{"domain":[0,360]}},"theta2":{"field":"end"},"radius":{"field":"outer","type":"quantitative","scale":{"type":"linear","domain":[0,400],"range":[0,400]}},"radius2":{"field":"inner"},"opacity":{"field":"identity","type":"nominal","legend":null,"scale":{"domain":["high","low"],"range":[1,0.4]}},"fill":{"field":"track","type":"nominal","legend":null,"scale":{"domain":["pG3X16-2-2","pMCR1_025943","pHNGD64-NDM","pHNTH9F11-HI2","GDQ8D151_plasmid1","GDQ20D15_plasmid1","GFQ9D68_Contig5","pNDM33-1"],"range":["#b020e0","#858585","#e0205a","#46e0ae","#aee0e0","#4a7a18","#4a4ee0","#e0ae55"]}}}},
{"data":{"name":"segmentsB"},"transform":[{"lookup":"track","from":{"data":{"name":"ringsB"},"key":"track","fields":["inner","outer","shade","glow"]}}],"mark":{"type":"arc","fill":"white","opacity":0.25},"encoding":{"x":{"value":338},"y":{"value":421},"theta":{"field":"start","type":"quantitative","scale":{"domain":[0,360]}},"theta2":{"field":"end"},"radius":{"field":"outer","type":"quantitative","scale":{"type":"linear","domain":[0,400],"range":[0,400]}},"radius2":{"field":"glow"}}},
{"data":{"name":"segmentsB"},"transform":[{"filter":"datum.identity === 'high'"},{"lookup":"track","from":{"data":{"name":"ringsB"},"key":"track","fields":["inner","outer","shade","glow"]}}],"mark":{"type":"arc","fill":"black","opacity":0.1},"encoding":{"x":{"value":338},"y":{"value":421},"theta":{"field":"start","type":"quantitative","scale":{"domain":[0,360]}},"theta2":{"field":"end"},"radius":{"field":"shade","type":"quantitative","scale":{"type":"linear","domain":[0,400],"range":[0,400]}},"radius2":{"field":"inner"}}},
{"data":{"values":[{"start":0,"end":360}]},"mark":{"type":"arc","fill":"black","radius":197.5,"radius2":195.5},"encoding":{"x":{"value":338},"y":{"value":421},"theta":{"field":"start","type":"quantitative","scale":{"domain":[0,360]}},"theta2":{"field":"end"}}},
{"data":{"name":"ticksMinorB"},"mark":{"type":"arc","fill":"#777777","stroke":"#777777","strokeWidth":0.6,"radius":195.5,"radius2":193.5},"encoding":{"x":{"value":338},"y":{"value":421},"theta":{"field":"bp","type":"quantitative","scale":{"domain":[0,238926]}},"theta2":{"field":"bp"}}},
{"data":{"name":"ticksMajorB"},"mark":{"type":"arc","fill":"#444444","stroke":"#444444","strokeWidth":0.8,"radius":195.5,"radius2":191.5},"encoding":{"x":{"value":338},"y":{"value":421},"theta":{"field":"bp","type":"quantitative","scale":{"domain":[0,238926]}},"theta2":{"field":"bp"}}},
{"data":{"name":"ticksMinorB"},"mark":{"type":"arc","fill":"#999999","stroke":"#999999","strokeWidth":0.5,"radius":303,"radius2":301},"encoding":{"x":{"value":338},"y":{"value":421},"theta":{"field":"bp","type":"quantitative","scale":{"domain":[0,238926]}},"theta2":{"field":"bp"}}},
{"data":{"name":"ticksMajorB"},"mark":{"type":"arc","fill":"#999999","stroke":"#999999","strokeWidth":0.5,"radius":303,"radius2":301},"encoding":{"x":{"value":338},"y":{"value":421},"theta":{"field":"bp","type":"quantitative","scale":{"domain":[0,238926]}},"theta2":{"field":"bp"}}},
{"data":{"name":"featuresB"},"mark":{"type":"arc","radius":299.5,"radius2":290},"encoding":{"x":{"value":338},"y":{"value":421},"theta":{"field":"start","type":"quantitative","scale":{"domain":[0,360]}},"theta2":{"field":"end"},"fill":{"field":"kind","type":"nominal","legend":null,"scale":{"domain":["gene","IS","AMR"],"range":["#000000","#078a07","#ff0000"]}}}},
{"data":{"name":"labelsB"},"mark":{"type":"rule","strokeWidth":0.7},"encoding":{"x":{"field":"x0","type":"quantitative","axis":null,"scale":{"domain":[-338,413],"range":[0,751],"nice":false,"zero":false}},"y":{"field":"y0","type":"quantitative","axis":null,"scale":{"domain":[-421,330],"range":[0,751],"nice":false,"zero":false}},"x2":{"field":"x1"},"y2":{"field":"y1"},"stroke":{"field":"kind","type":"nominal","legend":null,"scale":{"domain":["gene","IS","AMR"],"range":["#666666","#6fb36f","#f08a8a"]}}}},
{"data":{"name":"labelsB"},"mark":{"type":"text","fontSize":8.5,"fontStyle":"italic","fontWeight":"bold","align":"center","baseline":"middle"},"encoding":{"x":{"field":"lx","type":"quantitative"},"y":{"field":"ly","type":"quantitative"},"text":{"field":"gene"},"fill":{"field":"kind","type":"nominal","legend":null,"scale":{"domain":["gene","IS","AMR"],"range":["#1a1a1a","#138a13","#ff1a1a"]}}}},
{"data":{"name":"tickLabelsB"},"mark":{"type":"text","fontSize":11,"fill":"#333333","align":"center","baseline":"middle"},"encoding":{"x":{"field":"lx","type":"quantitative"},"y":{"field":"ly","type":"quantitative"},"text":{"field":"t"}}},
{"data":{"values":[{"t":"pHNBYF33-1","lx":0,"ly":-7},{"t":"238926 bp","lx":0,"ly":14}]},"mark":{"type":"text","fontSize":17,"fill":"#222222","align":"center","baseline":"middle"},"encoding":{"x":{"field":"lx","type":"quantitative"},"y":{"field":"ly","type":"quantitative"},"text":{"field":"t"}}},
{"data":{"values":[{"t":"B","lx":-322,"ly":-292}]},"mark":{"type":"text","fontSize":30,"fill":"#111111","align":"center","baseline":"middle"},"encoding":{"x":{"field":"lx","type":"quantitative"},"y":{"field":"ly","type":"quantitative"},"text":{"field":"t"}}}
]}
]}
